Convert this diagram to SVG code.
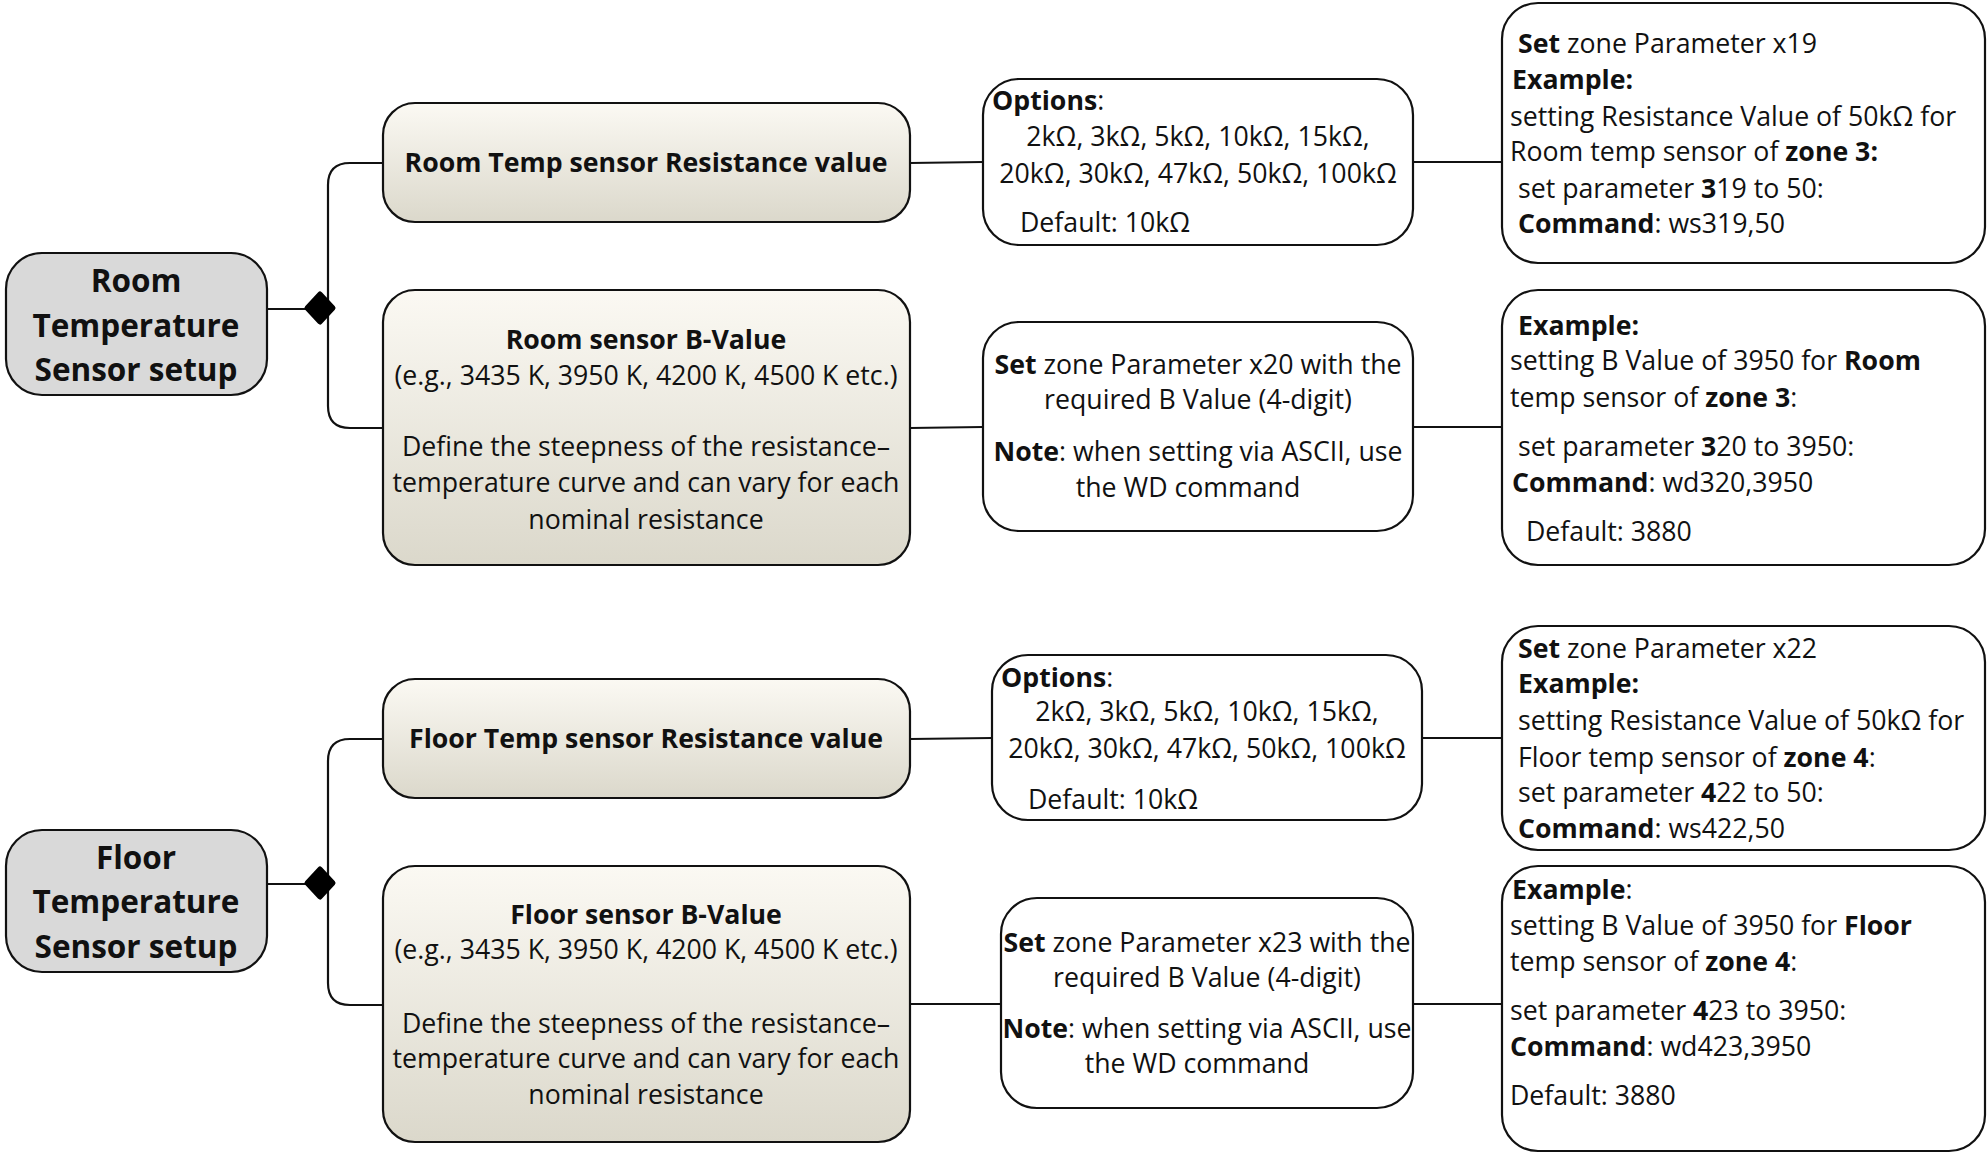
<svg xmlns="http://www.w3.org/2000/svg" width="1987" height="1153" viewBox="0 0 1987 1153">
<defs>
<linearGradient id="beige" x1="0" y1="0" x2="0" y2="1">
<stop offset="0" stop-color="#fbf9f3"/>
<stop offset="1" stop-color="#dbd8cb"/>
</linearGradient>
</defs>
<style>
text{font-family:"Open Sans","Noto Sans","DejaVu Sans",sans-serif;font-size:26.7px;fill:#111}
.b{font-weight:bold}
.c{text-anchor:middle}
.h{font-size:31.5px;font-weight:bold;text-anchor:middle}
.setup{fill:#d9d9d9;stroke:#111;stroke-width:2.2}
.beige{fill:url(#beige);stroke:#111;stroke-width:2.2}
.note{fill:#fff;stroke:#111;stroke-width:2.2}
.wire{fill:none;stroke:#111;stroke-width:2.2}
.dia{fill:#000;stroke:#000;stroke-width:5;stroke-linejoin:round}
</style>
<rect width="1987" height="1153" fill="#fff"/>

<g id="connectors">
<line class="wire" x1="267" y1="309" x2="310" y2="309"/>
<path class="wire" d="M383,163 H350 Q328,163 328,185 V406 Q328,428 350,428 H383"/>
<polygon class="dia" points="320,294 333,308 320,322 307,308"/>
<line class="wire" x1="910" y1="163" x2="983" y2="162"/>
<line class="wire" x1="1413" y1="162" x2="1502" y2="162"/>
<line class="wire" x1="910" y1="428" x2="983" y2="427"/>
<line class="wire" x1="1413" y1="427" x2="1502" y2="427"/>

<line class="wire" x1="267" y1="884" x2="310" y2="884"/>
<path class="wire" d="M383,739 H350 Q328,739 328,761 V983 Q328,1005 350,1005 H383"/>
<polygon class="dia" points="320,869 333,883 320,897 307,883"/>
<line class="wire" x1="910" y1="739" x2="992" y2="738"/>
<line class="wire" x1="1422" y1="738" x2="1502" y2="738"/>
<line class="wire" x1="910" y1="1004" x2="1001" y2="1004"/>
<line class="wire" x1="1413" y1="1004" x2="1502" y2="1004"/>
</g>

<g id="room-setup">
<rect class="setup" x="6" y="253" width="261" height="142" rx="36"/>
<text class="h" x="136" y="292">Room</text>
<text class="h" x="136" y="337">Temperature</text>
<text class="h" x="136" y="381">Sensor setup</text>
</g>

<g id="room-res">
<rect class="beige" x="383" y="103" width="527" height="119" rx="32"/>
<text class="b c" x="646" y="172">Room Temp sensor Resistance value</text>
</g>

<g id="room-options">
<rect class="note" x="983" y="79" width="430" height="166" rx="36"/>
<text x="992" y="110"><tspan class="b">Options</tspan>:</text>
<text class="c" x="1198" y="146">2kΩ, 3kΩ, 5kΩ, 10kΩ, 15kΩ,</text>
<text class="c" x="1198" y="183">20kΩ, 30kΩ, 47kΩ, 50kΩ, 100kΩ</text>
<text x="1020" y="232">Default: 10kΩ</text>
</g>

<g id="room-res-example">
<rect class="note" x="1502" y="3" width="483" height="260" rx="36"/>
<text x="1518" y="53"><tspan class="b">Set</tspan> zone Parameter x19</text>
<text class="b" x="1512" y="89">Example:</text>
<text x="1510" y="126">setting Resistance Value of 50kΩ for</text>
<text x="1510" y="161">Room temp sensor of <tspan class="b">zone 3:</tspan></text>
<text x="1518" y="198">set parameter <tspan class="b">3</tspan>19 to 50:</text>
<text x="1518" y="233"><tspan class="b">Command</tspan>: ws319,50</text>
</g>

<g id="room-b">
<rect class="beige" x="383" y="290" width="527" height="275" rx="32"/>
<text class="b c" x="646" y="349">Room sensor B-Value</text>
<text class="c" x="646" y="385">(e.g., 3435 K, 3950 K, 4200 K, 4500 K etc.)</text>
<text class="c" x="646" y="456">Define the steepness of the resistance–</text>
<text class="c" x="646" y="492">temperature curve and can vary for each</text>
<text class="c" x="646" y="529">nominal resistance</text>
</g>

<g id="room-b-set">
<rect class="note" x="983" y="322" width="430" height="209" rx="36"/>
<text class="c" x="1198" y="374"><tspan class="b">Set</tspan> zone Parameter x20 with the</text>
<text class="c" x="1198" y="409">required B Value (4-digit)</text>
<text class="c" x="1198" y="461"><tspan class="b">Note</tspan>: when setting via ASCII, use</text>
<text class="c" x="1188" y="497">the WD command</text>
</g>

<g id="room-b-example">
<rect class="note" x="1502" y="290" width="483" height="275" rx="36"/>
<text class="b" x="1518" y="335">Example:</text>
<text x="1510" y="370">setting B Value of 3950 for <tspan class="b">Room</tspan></text>
<text x="1510" y="407">temp sensor of <tspan class="b">zone 3</tspan>:</text>
<text x="1518" y="456">set parameter <tspan class="b">3</tspan>20 to 3950:</text>
<text x="1512" y="492"><tspan class="b">Command</tspan>: wd320,3950</text>
<text x="1526" y="541">Default: 3880</text>
</g>

<g id="floor-setup">
<rect class="setup" x="6" y="830" width="261" height="142" rx="36"/>
<text class="h" x="136" y="869">Floor</text>
<text class="h" x="136" y="913">Temperature</text>
<text class="h" x="136" y="958">Sensor setup</text>
</g>

<g id="floor-res">
<rect class="beige" x="383" y="679" width="527" height="119" rx="32"/>
<text class="b c" x="646" y="748">Floor Temp sensor Resistance value</text>
</g>

<g id="floor-options">
<rect class="note" x="992" y="655" width="430" height="165" rx="36"/>
<text x="1001" y="687"><tspan class="b">Options</tspan>:</text>
<text class="c" x="1207" y="721">2kΩ, 3kΩ, 5kΩ, 10kΩ, 15kΩ,</text>
<text class="c" x="1207" y="758">20kΩ, 30kΩ, 47kΩ, 50kΩ, 100kΩ</text>
<text x="1028" y="809">Default: 10kΩ</text>
</g>

<g id="floor-res-example">
<rect class="note" x="1502" y="626" width="483" height="224" rx="36"/>
<text x="1518" y="658"><tspan class="b">Set</tspan> zone Parameter x22</text>
<text class="b" x="1518" y="693">Example:</text>
<text x="1518" y="730">setting Resistance Value of 50kΩ for</text>
<text x="1518" y="767">Floor temp sensor of <tspan class="b">zone 4</tspan>:</text>
<text x="1518" y="802">set parameter <tspan class="b">4</tspan>22 to 50:</text>
<text x="1518" y="838"><tspan class="b">Command</tspan>: ws422,50</text>
</g>

<g id="floor-b">
<rect class="beige" x="383" y="866" width="527" height="276" rx="32"/>
<text class="b c" x="646" y="924">Floor sensor B-Value</text>
<text class="c" x="646" y="959">(e.g., 3435 K, 3950 K, 4200 K, 4500 K etc.)</text>
<text class="c" x="646" y="1033">Define the steepness of the resistance–</text>
<text class="c" x="646" y="1068">temperature curve and can vary for each</text>
<text class="c" x="646" y="1104">nominal resistance</text>
</g>

<g id="floor-b-set">
<rect class="note" x="1001" y="898" width="412" height="210" rx="36"/>
<text class="c" x="1207" y="952"><tspan class="b">Set</tspan> zone Parameter x23 with the</text>
<text class="c" x="1207" y="987">required B Value (4-digit)</text>
<text class="c" x="1207" y="1038"><tspan class="b">Note</tspan>: when setting via ASCII, use</text>
<text class="c" x="1197" y="1073">the WD command</text>
</g>

<g id="floor-b-example">
<rect class="note" x="1502" y="866" width="483" height="285" rx="36"/>
<text x="1512" y="899"><tspan class="b">Example</tspan>:</text>
<text x="1510" y="935">setting B Value of 3950 for <tspan class="b">Floor</tspan></text>
<text x="1510" y="971">temp sensor of <tspan class="b">zone 4</tspan>:</text>
<text x="1510" y="1020">set parameter <tspan class="b">4</tspan>23 to 3950:</text>
<text x="1510" y="1056"><tspan class="b">Command</tspan>: wd423,3950</text>
<text x="1510" y="1105">Default: 3880</text>
</g>
</svg>
